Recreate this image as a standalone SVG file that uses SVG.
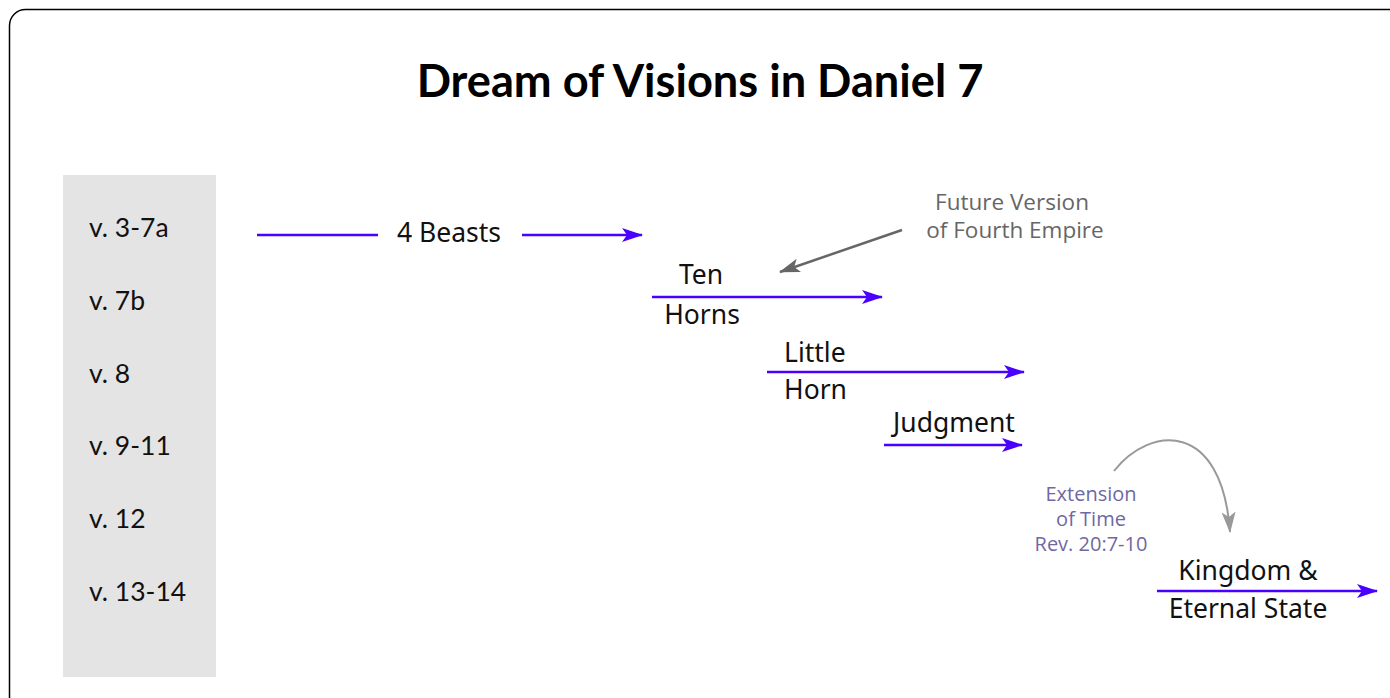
<svg xmlns="http://www.w3.org/2000/svg" width="1390" height="698" viewBox="0 0 1390 698">
<defs>
<marker id="blue" markerUnits="userSpaceOnUse" markerWidth="22" markerHeight="16" refX="20" refY="8" orient="auto">
<path d="M0,1 L21,8 L0,15 L5,8 z" fill="#4a00ff"/>
</marker>
<marker id="gray" markerUnits="userSpaceOnUse" markerWidth="22" markerHeight="16" refX="20" refY="8" orient="auto">
<path d="M0,1 L21,8 L0,15 L5,8 z" fill="#666666"/>
</marker>
<marker id="lgray" markerUnits="userSpaceOnUse" markerWidth="22" markerHeight="16" refX="20" refY="8" orient="auto">
<path d="M0,1 L21,8 L0,15 L5,8 z" fill="#999999"/>
</marker>
</defs>
<style>
.title{font-family:Lato,"Liberation Sans",sans-serif;font-weight:bold;font-size:45.2px;fill:#000}
.verse{font-family:Lato,"Liberation Sans",sans-serif;font-size:26.5px;fill:#111}
.lbl{font-family:"Noto Sans","Open Sans",sans-serif;font-size:26.5px;fill:#111}
.note{font-family:"Open Sans","Noto Sans",sans-serif;font-size:22.5px;fill:#666}
.ext{font-family:"Open Sans","Noto Sans",sans-serif;font-size:20px;fill:#6f68a3}
.bl{stroke:#4a00ff;stroke-width:2.5;fill:none}
</style>
<rect x="0" y="0" width="1390" height="698" fill="#fff"/>
<rect x="9.5" y="9.5" width="1395" height="703" rx="16" ry="16" fill="#fff" stroke="#000" stroke-width="1.5"/>
<text class="title" x="700" y="97" text-anchor="middle">Dream of Visions in Daniel 7</text>
<g id="verses">
<rect x="63" y="175" width="153" height="502" fill="#e4e4e4"/>
<text class="verse" x="89" y="237">v. 3-7a</text>
<text class="verse" x="89" y="310">v. 7b</text>
<text class="verse" x="89" y="383">v. 8</text>
<text class="verse" x="89" y="455">v. 9-11</text>
<text class="verse" x="89" y="528">v. 12</text>
<text class="verse" x="89" y="601">v. 13-14</text>
</g>
<g id="connectors">
<line class="bl" x1="257" y1="235" x2="378" y2="235"/>
<line class="bl" x1="522" y1="235" x2="642" y2="235" marker-end="url(#blue)"/>
<line class="bl" x1="652" y1="297" x2="882" y2="297" marker-end="url(#blue)"/>
<line class="bl" x1="767" y1="372" x2="1024" y2="372" marker-end="url(#blue)"/>
<line class="bl" x1="884" y1="445" x2="1022" y2="445" marker-end="url(#blue)"/>
<line class="bl" x1="1157" y1="591" x2="1377" y2="591" marker-end="url(#blue)"/>
<line x1="902" y1="230" x2="780" y2="272" stroke="#666" stroke-width="2.5" marker-end="url(#gray)"/>
<path d="M1114,471 C1150,425 1222,420 1230,532" fill="none" stroke="#999" stroke-width="2" marker-end="url(#lgray)"/>
</g>
<g id="beasts"><text class="lbl" x="449" y="242" text-anchor="middle">4 Beasts</text></g>
<g id="tenhorns"><text class="lbl" x="701" y="284" text-anchor="middle">Ten</text><text class="lbl" x="702" y="324" text-anchor="middle">Horns</text></g>
<g id="littlehorn"><text class="lbl" x="784" y="362">Little</text><text class="lbl" x="784" y="399">Horn</text></g>
<g id="judgment"><text class="lbl" x="954" y="432" text-anchor="middle">Judgment</text></g>
<g id="kingdom"><text class="lbl" x="1248" y="580" text-anchor="middle">Kingdom &amp;</text><text class="lbl" x="1248" y="618" text-anchor="middle">Eternal State</text></g>
<g id="future"><text class="note" x="1012" y="210" text-anchor="middle">Future Version</text><text class="note" x="1015" y="238" text-anchor="middle">of Fourth Empire</text></g>
<g id="extension"><text class="ext" x="1091" y="501" text-anchor="middle">Extension</text><text class="ext" x="1091" y="526" text-anchor="middle">of Time</text><text class="ext" x="1091" y="551" text-anchor="middle">Rev. 20:7-10</text></g>
</svg>
